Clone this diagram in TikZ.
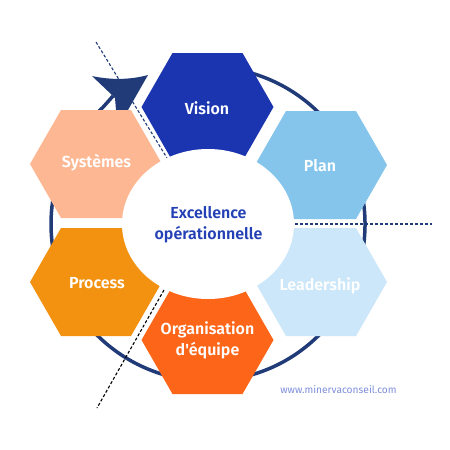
\documentclass[tikz,border=0pt]{standalone}
\usepackage{fontspec}
\usetikzlibrary{shapes.geometric}
\IfFontExistsTF{Fira Sans SemiBold}{\setmainfont{Fira Sans SemiBold}[Ligatures=TeXOff]}{\IfFontExistsTF{Fira Sans Medium}{\setmainfont{Fira Sans Medium}[Ligatures=TeXOff]}{\setmainfont{Fira Sans}[Ligatures=TeXOff]}}
\newfontfamily\urlfont{Fira Sans}
\definecolor{cvision}{HTML}{1B34B0}
\definecolor{cplan}{HTML}{85C5EB}
\definecolor{clead}{HTML}{CCE7F9}
\definecolor{corg}{HTML}{FD6518}
\definecolor{cproc}{HTML}{F39210}
\definecolor{csys}{HTML}{FDB893}
\definecolor{ctext}{HTML}{2440B5}
\definecolor{cnavy}{HTML}{203B78}
\definecolor{curl}{HTML}{7E8FDA}
\tikzset{
  hexa/.pic={\fill (-66,0) -- (-35,-54) -- (35,-54) -- (66,0) -- (35,54) -- (-35,54) -- cycle;},
  lab/.style={text=white, font=\fontsize{16}{20.5}\selectfont, align=center, inner sep=0pt, anchor=base},
  cut/.style={line width=1.1pt, dash pattern=on 3pt off 2pt},
  ring/.style={cnavy, line width=3.5pt}
}
\begin{document}
\begin{tikzpicture}[x=1pt,y=-1pt]
\useasboundingbox (0,0) rectangle (450,450);
\fill[white] (0,0) rectangle (450,450);
\coordinate (ctr) at (208,224);
\coordinate (tipjoin) at (113,96);
% ring with arrow
\draw[ring] (ctr) ++(-100:157) arc[start angle=-100, end angle=228, radius=157] -- (tipjoin);
\fill[cnavy] (92,76) .. controls (110,80) and (130,80) .. (148,75) -- (128,110) -- (116,110) -- (115,98) -- (tipjoin) -- cycle;
% hexagons
\pic[fill=cvision] at (207.5,107) {hexa};
\pic[fill=cplan] at (321,165) {hexa};
\pic[fill=clead] at (321,282) {hexa};
\pic[fill=corg] at (207.5,340) {hexa};
\pic[fill=cproc] at (96,282) {hexa};
\pic[fill=csys] at (96,164) {hexa};
% dashed cut lines
\coordinate (c1a) at (96,42);
\coordinate (c1b) at (167,158);
\coordinate (c2a) at (295,224);
\coordinate (c2b) at (432,224);
\coordinate (c3a) at (164,290);
\coordinate (c3b) at (97,408);
\draw[cut, cnavy] (c1a) -- (c1b);
\draw[cut, cnavy] (c2a) -- (c2b);
\draw[cut, black] (c3a) -- (c3b);
% centre
\node[ellipse, fill=white, minimum width=172pt, minimum height=150pt, inner sep=0pt] (core) at (ctr) {};
\node[lab, text=ctext, font=\fontsize{16}{21}\selectfont] (coretext) at (208.5,239) {Excellence\\op\'erationnelle};
% labels
\node[lab] (vision) at (207,114) {Vision};
\node[lab] (plan) at (320,171) {Plan};
\node[lab] (leadership) at (320,290) {Leadership};
\node[lab] (organisation) at (207.5,355) {Organisation\\d'\'equipe};
\node[lab] (process) at (97,288) {Process};
\node[lab] (systemes) at (96.5,167) {Syst\`emes};
\node[anchor=base, inner sep=0pt, text=curl, font=\urlfont\fontsize{10.2}{12}\selectfont] (url) at (338.5,393) {www.minervaconseil.com};
\end{tikzpicture}
\end{document}
